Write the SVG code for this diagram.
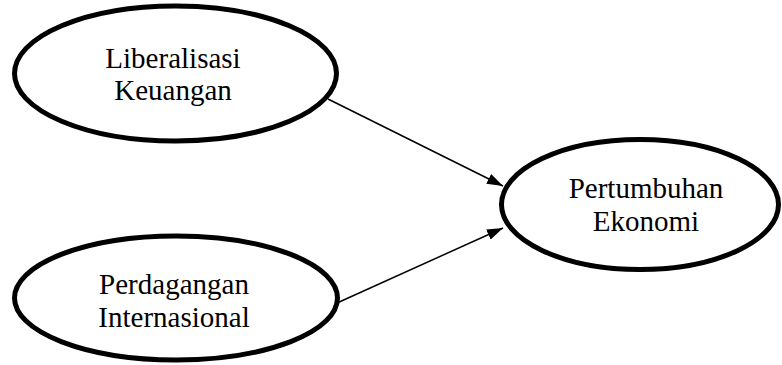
<svg xmlns="http://www.w3.org/2000/svg" width="782" height="365" viewBox="0 0 782 365">
<style>
.node ellipse{fill:#fff;stroke:#000;stroke-width:5}
.node text{font-family:'Liberation Serif','Times New Roman',Tinos,'DejaVu Serif',serif;font-size:29px;fill:#000;text-anchor:middle}
.edges line{stroke:#000;stroke-width:1.5;fill:none}
</style>
<defs>
<marker id="arr" viewBox="0 0 10 10" refX="10" refY="5" markerWidth="16" markerHeight="11" markerUnits="userSpaceOnUse" orient="auto" preserveAspectRatio="none">
<path d="M0,0 L10,5 L0,10 z" fill="#000"/>
</marker>
</defs>
<rect width="782" height="365" fill="#fff"/>
<g class="edges">
<line x1="328" y1="99" x2="503" y2="186" marker-end="url(#arr)"/>
<line x1="337" y1="303" x2="503" y2="228" marker-end="url(#arr)"/>
</g>
<g id="liberalisasi" class="node">
<ellipse cx="175.5" cy="73.5" rx="161" ry="67.5"/>
<text x="173" y="68" font-family="Liberation Serif, serif">Liberalisasi</text>
<text x="173" y="100" font-family="Liberation Serif, serif">Keuangan</text>
</g>
<g id="perdagangan" class="node">
<ellipse cx="176" cy="298" rx="161.5" ry="62"/>
<text x="174" y="294">Perdagangan</text>
<text x="174" y="327">Internasional</text>
</g>
<g id="pertumbuhan" class="node">
<ellipse cx="640" cy="204.5" rx="138.5" ry="65"/>
<text x="646" y="198">Pertumbuhan</text>
<text x="646" y="231">Ekonomi</text>
</g>
</svg>
